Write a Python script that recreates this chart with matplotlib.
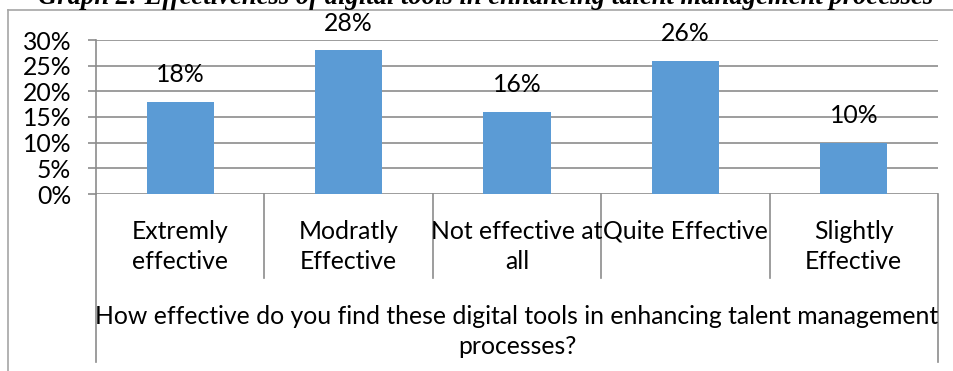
import matplotlib
matplotlib.use("Agg")
import matplotlib.pyplot as plt
import matplotlib.transforms as mtransforms
from matplotlib.lines import Line2D

categories = ["Extremly\neffective", "Modratly\nEffective", "Not effective at\nall",
              "Quite Effective", "Slightly\nEffective"]
values = [18, 28, 16, 26, 10]
value_labels = ["18%", "28%", "16%", "26%", "10%"]
yticks = [0, 5, 10, 15, 20, 25, 30]
ytick_labels = ["0%", "5%", "10%", "15%", "20%", "25%", "30%"]
axis_title = "How effective do you find these digital tools in enhancing talent management\nprocesses?"
title = "Graph 2: Effectiveness of digital tools in enhancing talent management processes"

W, H = 954, 371
plt.rcParams['font.family'] = ['Lato', 'DejaVu Sans']
fig = plt.figure(figsize=(W / 100, H / 100), dpi=100)

L, R, T, B = 96, 938, 40, 194
ax = fig.add_axes([L / W, 1 - B / H, (R - L) / W, (B - T) / H])

grid_color = "#8c8c8c"
bar_color = "#5B9BD5"
fs = 17.8

x = list(range(len(categories)))
ax.bar(x, values, width=0.4, color=bar_color, zorder=3)
ax.set_xlim(-0.5, len(categories) - 0.5)
ax.set_ylim(0, 30)
ax.set_yticks(yticks)
ax.set_yticklabels(ytick_labels, fontsize=fs)
ax.set_xticks([])
ax.yaxis.grid(True, color=grid_color, linewidth=1.2, zorder=0)
for s in ["top", "right", "bottom"]:
    ax.spines[s].set_visible(False)
ax.spines["left"].set_color(grid_color)
ax.spines["left"].set_linewidth(1.2)
ax.tick_params(axis="y", length=5.8, width=1.2, color=grid_color, pad=12)

for xi, v, lab in zip(x, values, value_labels):
    ax.annotate(lab, (xi, v), xytext=(0, 19.5), textcoords="offset points",
                ha="center", va="center", fontsize=fs)

trans = mtransforms.blended_transform_factory(ax.transData, ax.transAxes)
ph = B - T
# category separators
for i in range(len(categories) + 1):
    xb = i - 0.5
    bottom = 362 if i in (0, len(categories)) else 278
    ax.add_line(Line2D([xb, xb], [0, -(bottom - B) / ph], transform=trans,
                       color=grid_color, linewidth=1.2, clip_on=False))

for xi, c in zip(x, categories):
    ax.text(xi, -(220 - B) / ph, c, transform=trans, ha="center", va="top",
            fontsize=fs, linespacing=1.38)

ax.text(2, -(305 - B) / ph, axis_title, transform=trans, ha="center", va="top",
        fontsize=fs, linespacing=1.38)

# outer chart border
fig.add_artist(Line2D([8 / W, 8 / W], [0, 1 - 10 / H], color="#a6a6a6", linewidth=1.2))
fig.add_artist(Line2D([8 / W, 1], [1 - 10 / H, 1 - 10 / H], color="#a6a6a6", linewidth=1.2))

fig.text(486 / W, 1 - 4 / H, title, ha="center", va="baseline", fontsize=19.2,
         family="Liberation Serif", style="italic", weight="bold")

fig.savefig("out.png", dpi=100)
